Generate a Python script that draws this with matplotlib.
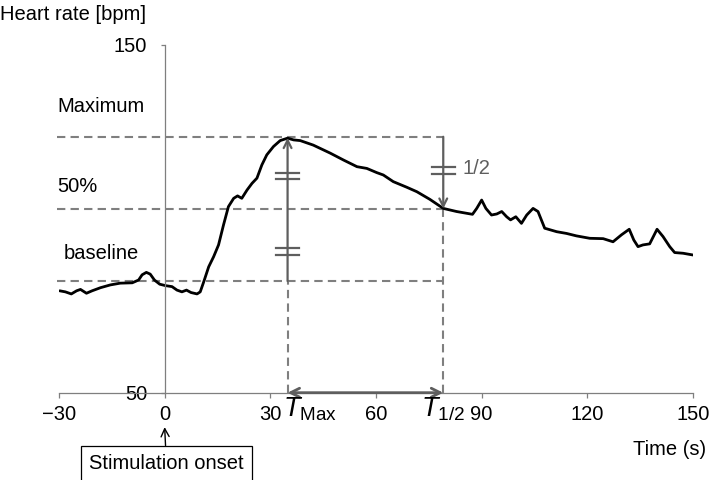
import numpy as np
import matplotlib
matplotlib.use("Agg")
import matplotlib.pyplot as plt

plt.rcParams["font.family"] = ["Liberation Sans", "DejaVu Sans"]
plt.rcParams["mathtext.fontset"] = "custom"
plt.rcParams["mathtext.rm"] = "Liberation Sans"
plt.rcParams["mathtext.it"] = "Liberation Sans:italic"

# Heart rate trace (time in s, heart rate in bpm)
time_s = [-29.8, -28.2, -26.5, -25.0, -23.9, -22.2, -20.6, -18.2, -15.4, -12.6,
          -9.2, -7.4, -6.4, -5.2, -4.1, -2.9, -1.4, 0.2, 2.1, 3.5,
          4.9, 6.2, 7.5, 9.2, 10.1, 11.1, 12.5, 13.9, 15.3, 16.7,
          18.1, 19.6, 20.7, 21.9, 23.4, 24.8, 26.2, 27.6, 29.0, 30.9,
          32.8, 34.9, 36.6, 38.5, 42.2, 47.0, 50.8, 54.6, 57.4, 60.2,
          62.1, 64.9, 68.7, 71.6, 75.3, 79.1, 82.9, 87.4, 88.6, 90.0,
          91.2, 92.8, 94.3, 95.7, 97.1, 98.2, 99.7, 101.3, 102.8, 104.6,
          106.0, 107.9, 111.3, 114.1, 116.9, 120.7, 124.5, 127.3, 129.7, 131.9,
          133.2, 134.4, 135.8, 137.7, 139.8, 141.5, 143.4, 144.8, 147.2, 150.0]
heart_rate = [79.3, 79.0, 78.4, 79.3, 79.7, 78.6, 79.3, 80.2, 81.0, 81.5,
              81.6, 82.4, 83.9, 84.6, 84.1, 82.4, 81.2, 80.8, 80.5, 79.5,
              79.0, 79.5, 78.8, 78.4, 79.0, 81.9, 86.2, 89.1, 92.5, 98.2,
              103.5, 105.9, 106.6, 105.9, 108.3, 110.2, 111.7, 115.5, 118.4, 120.8,
              122.5, 123.2, 122.7, 122.5, 121.2, 118.9, 116.9, 115.0, 114.5, 113.3,
              112.6, 110.7, 109.1, 107.8, 105.6, 103.0, 102.1, 101.3, 103.0, 105.4,
              103.0, 101.1, 101.4, 102.1, 100.6, 99.7, 100.6, 98.7, 101.1, 103.0,
              102.1, 97.3, 96.3, 95.8, 95.1, 94.4, 94.3, 93.4, 95.4, 97.0,
              93.9, 92.0, 92.5, 92.8, 97.0, 94.9, 92.0, 90.3, 90.1, 89.6]

# reference levels and times
max_hr = 123.6
half_hr = 102.9
base_hr = 82.1
t_max = 34.9
t_half = 79.1
hash_max = [112.4, 90.6]
hash_half = [113.9]

x_ticks = [-30, 0, 30, 60, 90, 120, 150]
x_labels = ["\u221230", "0", "30", "60", "90", "120", "150"]
y_ticks = [50, 150]

gray = "#7f7f7f"
dark = "#5e5e5e"
fs = 14.5

fig = plt.figure(figsize=(7.09, 4.8), dpi=100)
ax = fig.add_axes([0.0832, 0.1819, 0.8942, 0.7244])
ax.set_xlim(-30, 150)
ax.set_ylim(50, 150)

# dashed guide lines
dash = dict(color=gray, lw=1.5, dashes=(4, 2.5))
x_left = -30.6
ax.plot([x_left, t_half], [max_hr, max_hr], **dash)
ax.plot([x_left, t_half], [half_hr, half_hr], **dash)
ax.plot([x_left, t_half], [base_hr, base_hr], **dash)
ax.plot([t_max, t_max], [50, base_hr], **dash)
ax.plot([t_half, t_half], [50, half_hr], **dash)
for ln in ax.lines:
    ln.set_clip_on(False)

# vertical arrows
ax.annotate("", xy=(t_max, max_hr - 0.3), xytext=(t_max, base_hr),
            arrowprops=dict(arrowstyle="->", color=dark, lw=1.6,
                            shrinkA=0, shrinkB=0, mutation_scale=14))
ax.annotate("", xy=(t_half, half_hr), xytext=(t_half, max_hr),
            arrowprops=dict(arrowstyle="->", color=dark, lw=1.6,
                            shrinkA=0, shrinkB=0, mutation_scale=14))

# equal-length marks
for t0, levels in [(t_max, hash_max), (t_half, hash_half)]:
    for lev in levels:
        for off in (-0.9, 0.9):
            ax.plot([t0 - 3.3, t0 + 3.3], [lev + off, lev + off], color=dark, lw=1.6)

# heart rate trace
ax.plot(time_s, heart_rate, color="black", lw=2.0, solid_joinstyle="round",
        solid_capstyle="round")

# double arrow along the time axis
ax.annotate("", xy=(t_half, 50), xytext=(t_max, 50), annotation_clip=False,
            arrowprops=dict(arrowstyle="<->", color=dark, lw=2.0,
                            shrinkA=0, shrinkB=0, mutation_scale=16))

# axes styling
for s in ["top", "right"]:
    ax.spines[s].set_visible(False)
ax.spines["left"].set_position(("data", 0))
for s in ["left", "bottom"]:
    ax.spines[s].set_color(gray)
    ax.spines[s].set_linewidth(0.9)
ax.set_xticks(x_ticks)
ax.set_xticklabels(x_labels)
ax.set_yticks(y_ticks)
ax.tick_params(axis="x", colors=gray, labelcolor="black", length=3.6,
               width=0.9, labelsize=fs, pad=5.5)
ax.tick_params(axis="y", colors=gray, labelcolor="black", length=3,
               width=0.9, labelsize=fs, pad=9.5)

# texts
fig.text(0.0, 1 - 14 / 480, "Heart rate [bpm]", fontsize=fs, ha="left", va="center")
ax.text(-30.4, 132.2, "Maximum", fontsize=fs, ha="left", va="center")
ax.text(-30.4, 109.2, "50%", fontsize=fs, ha="left", va="center")
ax.text(-28.7, 89.9, "baseline", fontsize=fs, ha="left", va="center")
ax.text(84.7, 114.6, "1/2", fontsize=fs, ha="left", va="center", color=dark)
ax.text(153.6, 33.8, "Time (s)", fontsize=fs, ha="right", va="center", clip_on=False)
ax.text(41.2, 43.1, r"$T_{\mathrm{Max}}$", fontsize=19.5, ha="center", va="baseline")
ax.text(78.9, 43.1, r"$T_{\mathrm{1/2}}$", fontsize=19.5, ha="center", va="baseline")

ax.annotate("Stimulation onset", xy=(0, 40.1), xytext=(0.5, 29.6),
            fontsize=fs, ha="center", va="center", annotation_clip=False,
            bbox=dict(boxstyle="square,pad=0.4", fc="white", ec="black", lw=0.9),
            arrowprops=dict(arrowstyle="->", color="black", lw=1.0,
                            shrinkA=0, shrinkB=0))

fig.savefig("out.png", dpi=100)
